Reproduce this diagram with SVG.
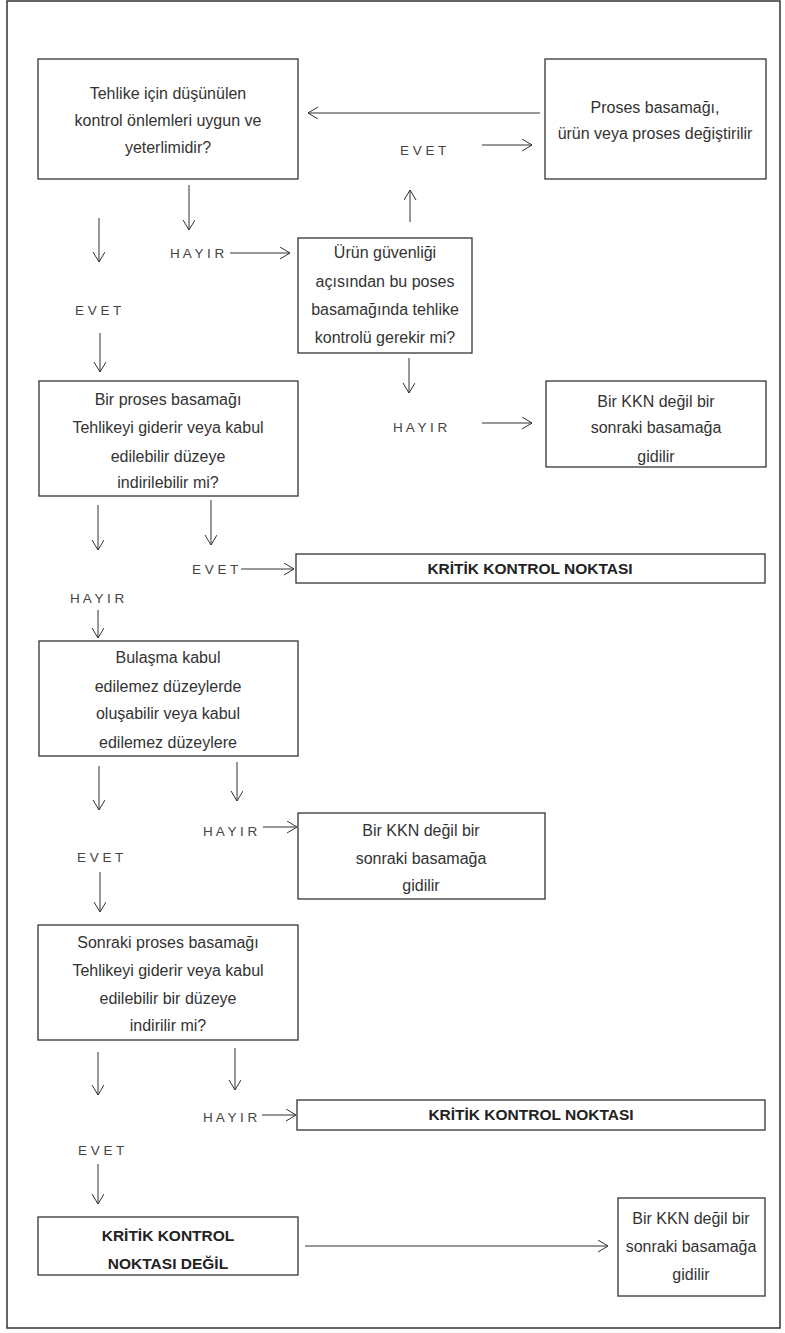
<svg xmlns="http://www.w3.org/2000/svg" width="785" height="1333" viewBox="0 0 785 1333">
<defs>
<marker id="ah" markerUnits="userSpaceOnUse" markerWidth="14" markerHeight="14" refX="10" refY="6" orient="auto">
<path d="M0,0 L10,6 L0,12" fill="none" stroke="#333" stroke-width="1"/>
</marker>
<style>
.box{fill:#fff;stroke:#333;stroke-width:1.3}
.t{font-family:"Liberation Sans",Arial,sans-serif;font-size:16px;fill:#333;text-anchor:middle}
.b{font-family:"Liberation Sans",Arial,sans-serif;font-size:15.5px;font-weight:bold;fill:#222;text-anchor:middle}
.lbl{font-family:"Liberation Sans",Arial,sans-serif;font-size:13.5px;fill:#444}
.c{fill:none;stroke:#333;stroke-width:1;marker-end:url(#ah)}
</style>
</defs>
<rect x="0" y="0" width="785" height="1333" fill="#fff"/>
<rect x="7" y="1" width="773" height="1327" fill="none" stroke="#333" stroke-width="1.5"/>

<g id="n1"><rect class="box" x="38" y="59" width="260" height="120"/>
<text class="t" x="168" y="99">Tehlike için düşünülen</text>
<text class="t" x="168" y="126">kontrol önlemleri uygun ve</text>
<text class="t" x="168" y="153">yeterlimidir?</text></g>

<g id="n2"><rect class="box" x="545" y="59" width="221" height="120"/>
<text class="t" x="655" y="113">Proses basamağı,</text>
<text class="t" x="655" y="139">ürün veya proses değiştirilir</text></g>

<g id="n3"><rect class="box" x="298" y="238" width="174" height="115"/>
<text class="t" x="385" y="258">Ürün güvenliği</text>
<text class="t" x="385" y="287">açısından bu poses</text>
<text class="t" x="385" y="315">basamağında tehlike</text>
<text class="t" x="385" y="343">kontrolü gerekir mi?</text></g>

<g id="n4"><rect class="box" x="39" y="381" width="259" height="115"/>
<text class="t" x="168" y="405">Bir proses basamağı</text>
<text class="t" x="168" y="433">Tehlikeyi giderir veya kabul</text>
<text class="t" x="168" y="462">edilebilir düzeye</text>
<text class="t" x="168" y="488">indirilebilir mi?</text></g>

<g id="n5"><rect class="box" x="546" y="381" width="220" height="86"/>
<text class="t" x="656" y="407">Bir KKN değil bir</text>
<text class="t" x="656" y="433">sonraki basamağa</text>
<text class="t" x="656" y="462">gidilir</text></g>

<g id="n6"><rect class="box" x="296" y="554" width="469" height="29"/>
<text class="b" x="530" y="574">KRİTİK KONTROL NOKTASI</text></g>

<g id="n7"><rect class="box" x="39" y="641" width="259" height="115"/>
<text class="t" x="168" y="663">Bulaşma kabul</text>
<text class="t" x="168" y="692">edilemez düzeylerde</text>
<text class="t" x="168" y="719">oluşabilir veya kabul</text>
<text class="t" x="168" y="748">edilemez düzeylere</text></g>

<g id="n8"><rect class="box" x="298" y="813" width="247" height="86"/>
<text class="t" x="421" y="836">Bir KKN değil bir</text>
<text class="t" x="421" y="864">sonraki basamağa</text>
<text class="t" x="421" y="891">gidilir</text></g>

<g id="n9"><rect class="box" x="38" y="925" width="260" height="115"/>
<text class="t" x="168" y="948">Sonraki proses basamağı</text>
<text class="t" x="168" y="976">Tehlikeyi giderir veya kabul</text>
<text class="t" x="168" y="1004">edilebilir bir düzeye</text>
<text class="t" x="168" y="1031">indirilir mi?</text></g>

<g id="n10"><rect class="box" x="297" y="1100" width="468" height="30"/>
<text class="b" x="531" y="1120">KRİTİK KONTROL NOKTASI</text></g>

<g id="n11"><rect class="box" x="38" y="1217" width="260" height="58"/>
<text class="b" x="168" y="1241">KRİTİK KONTROL</text>
<text class="b" x="168" y="1269">NOKTASI DEĞİL</text></g>

<g id="n12"><rect class="box" x="618" y="1198" width="147" height="98"/>
<text class="t" x="691" y="1224">Bir KKN değil bir</text>
<text class="t" x="691" y="1252">sonraki basamağa</text>
<text class="t" x="691" y="1280">gidilir</text></g>

<g id="connectors">
<path class="c" d="M540,113 L308,113"/>
<path class="c" d="M482,145 L532,145"/>
<path class="c" d="M410,222 L410,190"/>
<path class="c" d="M189,185 L189,230"/>
<path class="c" d="M99,218 L99,262"/>
<path class="c" d="M230,253 L290,253"/>
<path class="c" d="M100,333 L100,372"/>
<path class="c" d="M409,358 L409,393"/>
<path class="c" d="M482,423 L532,423"/>
<path class="c" d="M98,505 L98,550"/>
<path class="c" d="M211,500 L211,545"/>
<path class="c" d="M241,569 L294,569"/>
<path class="c" d="M98,610 L98,638"/>
<path class="c" d="M99,766 L99,810"/>
<path class="c" d="M237,762 L237,801"/>
<path class="c" d="M263,827 L297,827"/>
<path class="c" d="M100,872 L100,912"/>
<path class="c" d="M98,1052 L98,1095"/>
<path class="c" d="M235,1048 L235,1090"/>
<path class="c" d="M262,1115 L296,1115"/>
<path class="c" d="M98,1164 L98,1204"/>
<path class="c" d="M305,1246 L608,1246"/>
</g>

<g id="labels">
<text class="lbl" x="400" y="155">E V E T</text>
<text class="lbl" x="170" y="258">H A Y I R</text>
<text class="lbl" x="75" y="315">E V E T</text>
<text class="lbl" x="393" y="432">H A Y I R</text>
<text class="lbl" x="192" y="574">E V E T</text>
<text class="lbl" x="70" y="603">H A Y I R</text>
<text class="lbl" x="203" y="836">H A Y I R</text>
<text class="lbl" x="77" y="862">E V E T</text>
<text class="lbl" x="203" y="1122">H A Y I R</text>
<text class="lbl" x="78" y="1155">E V E T</text>
</g>
</svg>
